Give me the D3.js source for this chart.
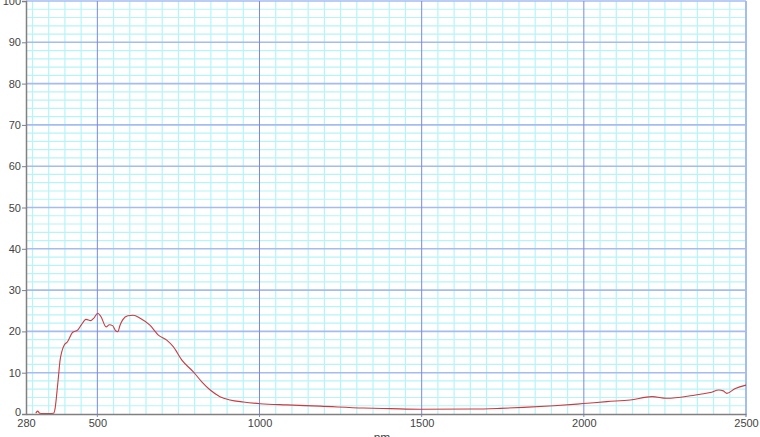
<!DOCTYPE html>
<html><head><meta charset="utf-8">
<script src="https://cdn.jsdelivr.net/npm/d3@7/dist/d3.min.js"></script>
<style>body{margin:0;background:#fff;overflow:hidden}svg{display:block}</style>
</head><body><svg id="c" width="760" height="437"></svg>
<script>
const wavelengths = [310,316,322,335,350,365,370,375,380,385,390,398,408,424,439,450,465,480,490,501,511,527,537,547,556,563,570,578,594,610,632,662,688,714,734,760,796,822,848,878,909,950,1002,1084,1187,1320,1403,1495,1660,1742,1814,1907,1979,2010,2071,2143,2210,2256,2328,2359,2390,2416,2430,2441,2467,2500];
const values = [0.2,0.7,0.2,0.1,0.1,0.2,1.5,5,9,13,15,16.7,17.5,19.8,20.3,21.5,22.9,22.6,23.3,24.4,23.6,21.1,21.6,21.4,20.2,19.9,21.5,22.8,23.8,23.9,23.2,21.5,19.1,17.9,16.3,13.1,10.2,7.8,5.8,4.2,3.4,2.9,2.5,2.2,1.9,1.45,1.3,1.15,1.2,1.37,1.6,2.0,2.4,2.6,3.0,3.4,4.2,3.8,4.4,4.8,5.2,5.8,5.6,5.0,6.2,7.0];
const xTicks = [280,500,1000,1500,2000,2500];
const yTicks = [0,10,20,30,40,50,60,70,80,90,100];
const xLabel = "nm";

const svg = d3.select("#c");
const L = 26, R = 746, T = 1, B = 414;
const x = d3.scaleLinear().domain([280,2500]).range([L,R]);
const y = d3.scaleLinear().domain([0,100]).range([B,T]);

const g = svg.append("g");
const xMinor = d3.range(300,2500,50).filter(v=>v%500!==0);
const yMinor = d3.range(2,100,2).filter(v=>v%10!==0);
g.selectAll(".vm").data(xMinor).join("line")
 .attr("x1",d=>x(d)).attr("x2",d=>x(d)).attr("y1",T).attr("y2",B)
 .attr("stroke","#b6f4f8").attr("stroke-width",1.2);
g.selectAll(".hm").data(yMinor).join("line")
 .attr("x1",L).attr("x2",R).attr("y1",d=>y(d)).attr("y2",d=>y(d))
 .attr("stroke","#b6f4f8").attr("stroke-width",1.2);
g.selectAll(".hM").data(yTicks.filter(v=>v>0)).join("line")
 .attr("x1",L).attr("x2",R).attr("y1",d=>y(d)).attr("y2",d=>y(d))
 .attr("stroke","#a4bcf0").attr("stroke-width",1.6);
g.selectAll(".vM").data(xTicks.filter(v=>v>280 && v<2500)).join("line")
 .attr("x1",d=>x(d)).attr("x2",d=>x(d)).attr("y1",T).attr("y2",B+3)
 .attr("stroke","#7c88e0").attr("stroke-width",1);
g.append("line").attr("x1",R).attr("x2",R).attr("y1",T).attr("y2",B+3)
 .attr("stroke","#a4bcf0").attr("stroke-width",2);

const line = d3.line().x((d,i)=>x(wavelengths[i])).y(d=>y(d)).curve(d3.curveMonotoneX);
svg.append("path").datum(values).attr("d",line)
 .attr("fill","none").attr("stroke","#cc3a40").attr("stroke-width",1.1);

const font = "'Liberation Sans', Arial, sans-serif";
const yAxis = svg.append("g").attr("transform",`translate(${L},0)`)
 .call(d3.axisLeft(y).tickValues(yTicks).tickFormat(d3.format("d")).tickSize(4).tickPadding(1));
const xAxis = svg.append("g").attr("transform",`translate(0,${B})`)
 .call(d3.axisBottom(x).tickValues(xTicks).tickFormat(d3.format("d")).tickSize(0).tickPadding(5));
[yAxis,xAxis].forEach(a=>{
  a.select(".domain").attr("stroke","#808080").attr("stroke-width",1.5);
  a.selectAll(".tick line").attr("stroke","#808080");
  a.selectAll("text").attr("fill","#444").style("font-family",font).style("font-size","11px");
});
yAxis.selectAll(".tick text").filter(d=>d===0).attr("dy","0.1em");
svg.append("text").attr("x",382).attr("y",442).attr("text-anchor","middle")
 .attr("fill","#444").style("font-family",font).style("font-size","12px").text(xLabel);
</script></body></html>
